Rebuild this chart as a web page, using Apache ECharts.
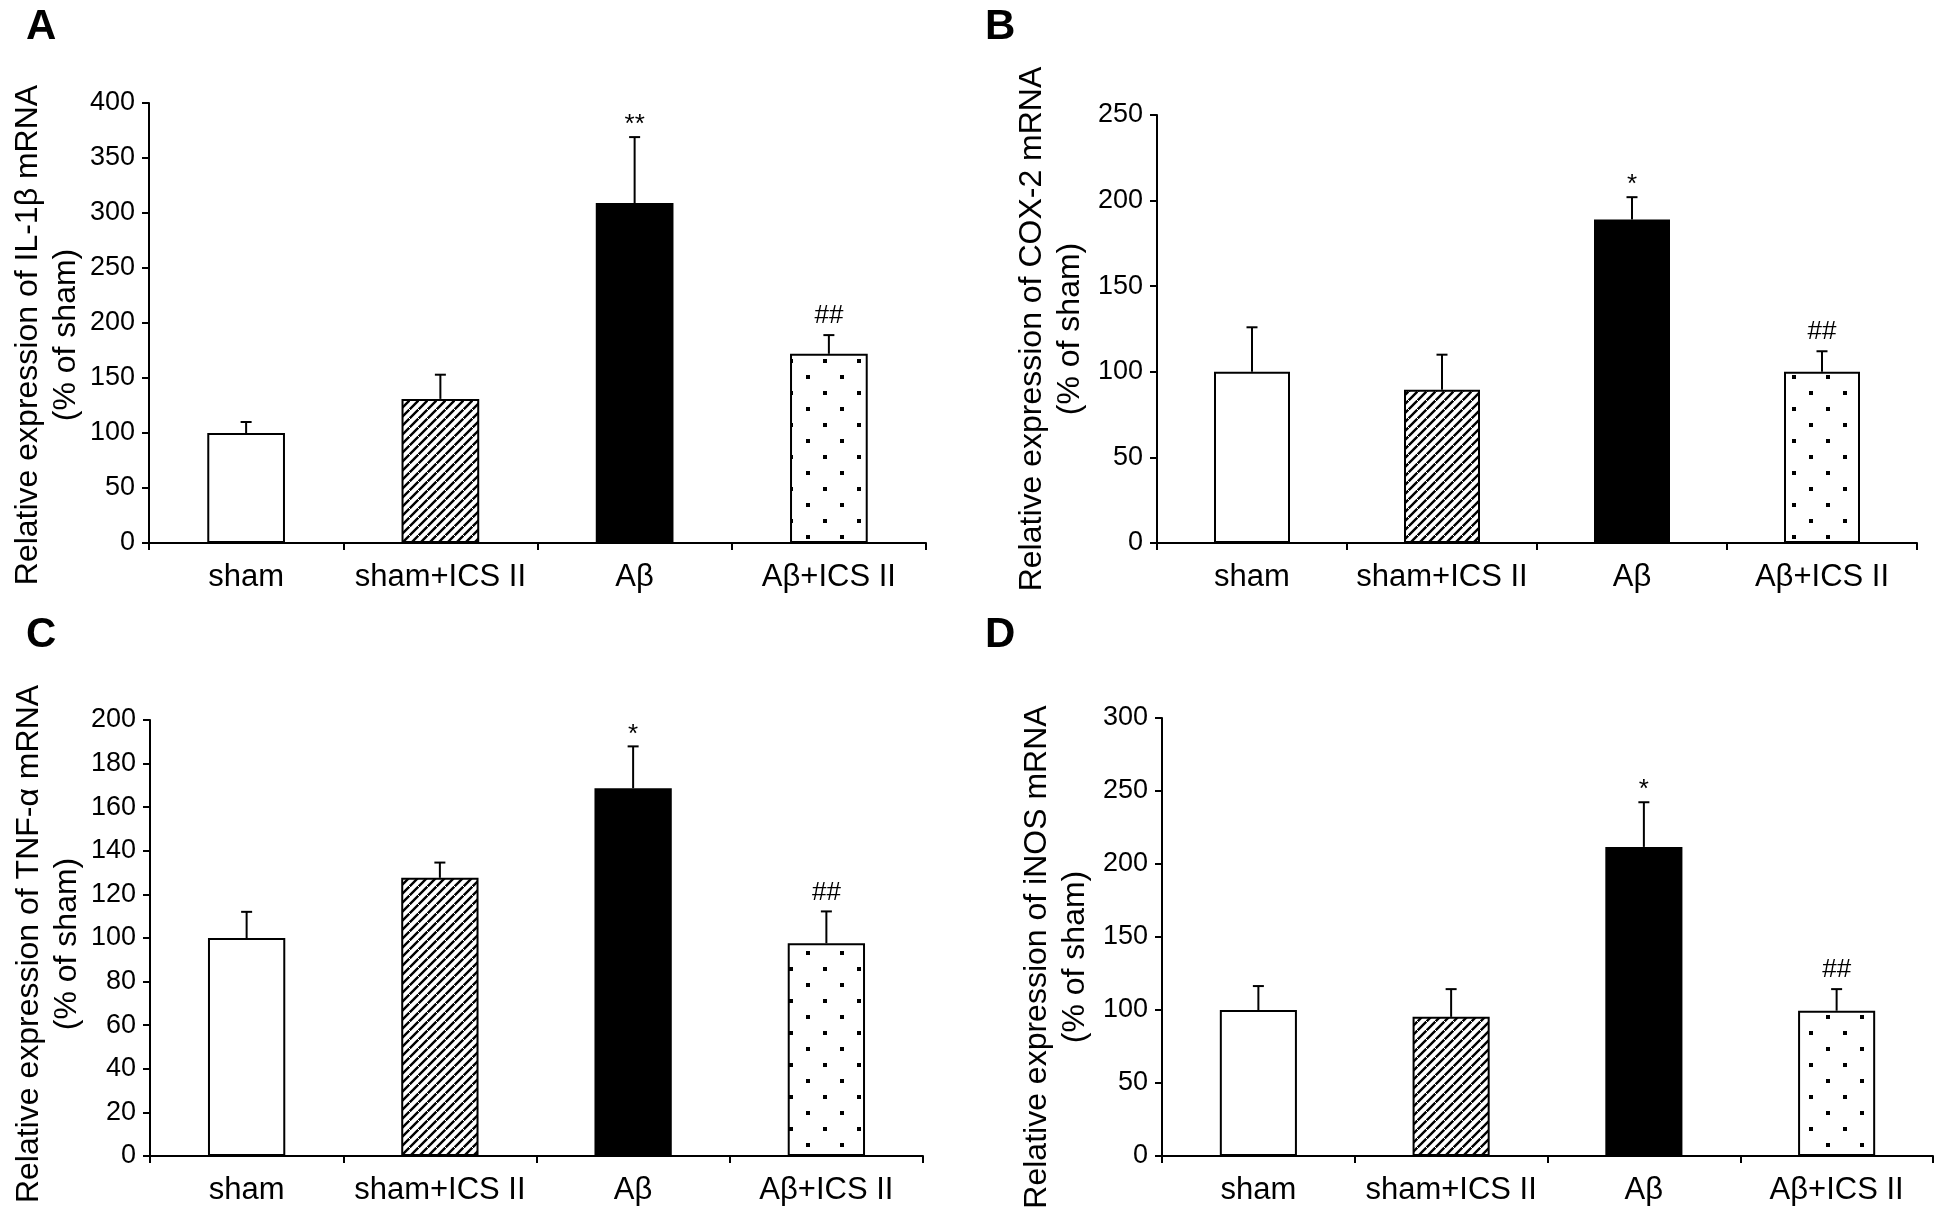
<!DOCTYPE html>
<html>
<head>
<meta charset="utf-8">
<script src="https://cdn.jsdelivr.net/npm/echarts@6/dist/echarts.min.js"></script>
<style>
html,body{margin:0;padding:0;background:#fff;}
#chart{width:1951px;height:1227px;}
</style>
</head>
<body>
<div id="chart"></div>
<script>
// ---- data ----
const categories = ['sham', 'sham+ICS II', 'Aβ', 'Aβ+ICS II'];

const il1bMean = [100, 131, 309, 172];
const il1bErr  = [10, 22, 60, 17];
const il1bMarks = ['', '', '**', '##'];

const cox2Mean = [100, 89.5, 189, 100];
const cox2Err  = [26, 20.5, 13, 12];
const cox2Marks = ['', '', '*', '##'];

const tnfMean = [100, 127.6, 168.7, 97.6];
const tnfErr  = [12, 7, 19.2, 14.6];
const tnfMarks = ['', '', '*', '##'];

const inosMean = [100, 95.3, 211.7, 99.5];
const inosErr  = [16.4, 19, 30.6, 14.8];
const inosMarks = ['', '', '*', '##'];

const panelLetters = ['A', 'B', 'C', 'D'];
const yTitles = [
  'Relative expression of IL-1β mRNA\n(% of sham)',
  'Relative expression of COX-2 mRNA\n(% of sham)',
  'Relative expression of TNF-α mRNA\n(% of sham)',
  'Relative expression of iNOS mRNA\n(% of sham)'
];
const yMax = [400, 250, 200, 300];
const yInterval = [50, 50, 20, 50];

// ---- styling helpers ----
const FONT = '"Liberation Sans", Arial, Helvetica, sans-serif';

function hatchPattern() {
  const s = 9;
  const c = document.createElement('canvas');
  c.width = s; c.height = s;
  const g = c.getContext('2d');
  g.fillStyle = '#fff'; g.fillRect(0, 0, s, s);
  g.strokeStyle = '#000'; g.lineWidth = 2.4;
  g.beginPath();
  g.moveTo(-1, s + 1); g.lineTo(s + 1, -1);
  g.moveTo(-1, 1); g.lineTo(1, -1);
  g.moveTo(s - 1, s + 1); g.lineTo(s + 1, s - 1);
  g.stroke();
  // small breaks that give the dotted look of the printed hatch
  g.strokeStyle = '#fff'; g.lineWidth = 1;
  g.beginPath();
  g.moveTo(s / 2 - 2, s / 2 - 2); g.lineTo(s / 2 + 2, s / 2 + 2);
  g.stroke();
  return { image: c, repeat: 'repeat' };
}
function dotPattern() {
  const c = document.createElement('canvas');
  c.width = 34; c.height = 32;
  const g = c.getContext('2d');
  g.fillStyle = '#fff'; g.fillRect(0, 0, 34, 32);
  g.fillStyle = '#000';
  g.fillRect(7, 7, 4, 4);
  g.fillRect(24, 23, 4, 4);
  return { image: c, repeat: 'repeat' };
}
const fills = ['#ffffff', hatchPattern(), '#000000', dotPattern()];

const panels = [
  { mean: il1bMean, err: il1bErr, marks: il1bMarks },
  { mean: cox2Mean, err: cox2Err, marks: cox2Marks },
  { mean: tnfMean, err: tnfErr, marks: tnfMarks },
  { mean: inosMean, err: inosErr, marks: inosMarks }
];

const grids = [
  { left: 149, top: 103, width: 777, height: 440 },
  { left: 1157, top: 115, width: 760, height: 428 },
  { left: 150, top: 720, width: 773, height: 436 },
  { left: 1162, top: 718, width: 771, height: 438 }
];
// shift (px) of each y-axis title along the axis, toward the bottom
const titleShift = [12, 0, 6, 20];
const titleGap = [64, 68, 64, 68];
const letterPos = [
  { left: 26, top: 6 }, { left: 985, top: 6 },
  { left: 26, top: 614 }, { left: 985, top: 614 }
];

const option = {
  backgroundColor: '#fff',
  animation: false,
  title: panelLetters.map((t, i) => ({
    text: t, left: letterPos[i].left, top: letterPos[i].top, padding: 0,
    textStyle: { fontFamily: FONT, fontSize: 42, fontWeight: 'bold', color: '#000' }
  })),
  grid: grids,
  xAxis: grids.map((g, i) => ({
    type: 'category', gridIndex: i, data: categories,
    axisLine: { lineStyle: { color: '#000', width: 2 } },
    axisTick: { show: true, length: 7, lineStyle: { color: '#000', width: 2 } },
    axisLabel: { color: '#000', fontFamily: FONT, fontSize: 31, margin: 19, interval: 0 },
    splitLine: { show: false }
  })),
  yAxis: grids.map((g, i) => ({
    type: 'value', gridIndex: i, min: 0, max: yMax[i], interval: yInterval[i],
    name: yTitles[i], nameLocation: 'middle', nameGap: titleGap[i], nameRotate: 90,
    nameTextStyle: { color: '#000', fontFamily: FONT, fontSize: 32, lineHeight: 38,
                     padding: [0, 2 * titleShift[i], 0, 0] },
    axisLine: { show: true, lineStyle: { color: '#000', width: 2 } },
    axisTick: { show: true, length: 7, lineStyle: { color: '#000', width: 2 } },
    axisLabel: { color: '#000', fontFamily: FONT, fontSize: 27, margin: 14 },
    splitLine: { show: false }
  })),
  series: []
};

panels.forEach((p, i) => {
  option.series.push({
    type: 'bar', xAxisIndex: i, yAxisIndex: i, barWidth: '40%', z: 2,
    data: p.mean.map((v, k) => ({
      value: v,
      itemStyle: { color: fills[k], borderColor: '#000', borderWidth: 2 }
    }))
  });
  option.series.push({
    type: 'custom', xAxisIndex: i, yAxisIndex: i, z: 3,
    data: p.mean.map((v, k) => [k, v, p.err[k]]),
    encode: { x: 0, y: 1 },
    renderItem: function (params, api) {
      const x = api.value(0), v = api.value(1), e = api.value(2);
      const p0 = api.coord([x, v]);
      const p1 = api.coord([x, v + e]);
      const children = [
        { type: 'line', shape: { x1: p0[0], y1: p0[1], x2: p1[0], y2: p1[1] },
          style: { stroke: '#000', lineWidth: 2 } },
        { type: 'line', shape: { x1: p1[0] - 5.5, y1: p1[1], x2: p1[0] + 5.5, y2: p1[1] },
          style: { stroke: '#000', lineWidth: 2 } }
      ];
      const mark = p.marks[params.dataIndex];
      if (mark) {
        children.push({
          type: 'text', x: p1[0], y: p1[1] + (mark.charAt(0) === '*' ? -12 : -19),
          style: { text: mark, fill: '#000', fontFamily: FONT, fontSize: 26,
                   align: 'center', verticalAlign: 'middle' }
        });
      }
      return { type: 'group', children: children };
    }
  });
});

const chart = echarts.init(document.getElementById('chart'), null, { renderer: 'canvas' });
chart.setOption(option);
</script>
</body>
</html>
